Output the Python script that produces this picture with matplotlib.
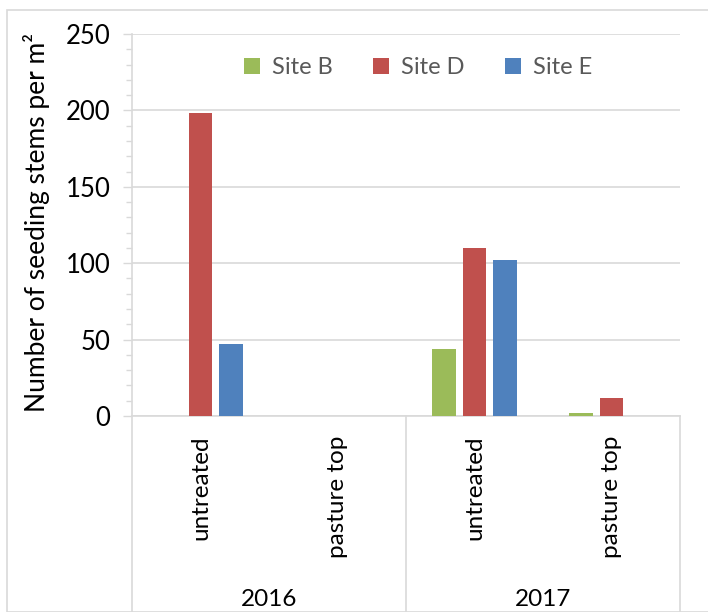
import numpy as np
import matplotlib
matplotlib.use("Agg")
import matplotlib.pyplot as plt
from matplotlib.patches import Rectangle, Patch
from matplotlib.lines import Line2D
from matplotlib.transforms import blended_transform_factory

plt.rcParams['font.family'] = ['Lato', 'DejaVu Sans']

categories = ["untreated", "pasture top", "untreated", "pasture top"]
years = ["2016", "2017"]
series_names = ["Site B", "Site D", "Site E"]
site_b = [0, 0, 44, 2]
site_d = [198, 0, 110, 12]
site_e = [47, 0, 102, 0]
colors = ["#9BBB59", "#C0504D", "#4F81BD"]

W, H = 708, 612
fig = plt.figure(figsize=(W / 100, H / 100), dpi=100)
ax = fig.add_axes([132 / W, 1 - 416 / H, (680 - 132) / W, (416 - 34) / H])

x = np.arange(len(categories))
offsets = [-0.224, 0.0, 0.224]
width = 0.175
for vals, off, c in zip([site_b, site_d, site_e], offsets, colors):
    ax.bar(x + off, vals, width, color=c, linewidth=0, zorder=3)

ax.set_xlim(-0.5, len(categories) - 0.5)
ax.set_ylim(0, 250)
ax.set_yticks(np.arange(0, 251, 50))
ax.set_yticks(np.arange(0, 251, 10), minor=True)
ax.yaxis.grid(True, which='major', color='#D9D9D9', linewidth=1.2, zorder=0)
ax.set_axisbelow(True)
ax.tick_params(axis='y', which='major', length=6.5, width=1, color='#D9D9D9',
               labelsize=18.5, pad=9, labelcolor='black')
ax.tick_params(axis='y', which='minor', length=4, width=1, color='#D9D9D9')
ax.set_xticks([])
for s in ['top', 'right']:
    ax.spines[s].set_visible(False)
for s in ['left', 'bottom']:
    ax.spines[s].set_color('#D9D9D9')
    ax.spines[s].set_linewidth(1.2)

# multi-level category axis
trans = blended_transform_factory(ax.transData, fig.transFigure)
for xi, lab in zip(x, categories):
    ax.text(xi, 1 - 436 / H, lab, rotation=90, ha='center', va='top',
            fontsize=17.5, transform=trans, color='black')
for i, yr in enumerate(years):
    ax.text(2 * i + 0.5, 1 - 600 / H, yr, ha='center', va='center',
            fontsize=17.5, transform=trans, color='black')
for xs in [-0.5, 1.5, 3.5]:
    fig.add_artist(Line2D([xs, xs], [1 - 416 / H, 0], transform=trans,
                          color='#D9D9D9', linewidth=1.2))

# y label
fig.text(37 / W, 1 - 222 / H, "Number of seeding stems per m²", rotation=90,
         ha='center', va='center', fontsize=19, color='black')

# legend
handles = [Patch(facecolor=c, edgecolor='none') for c in colors]
leg = ax.legend(handles, series_names, loc='center', bbox_to_anchor=(0.522, 0.911),
                ncol=3, frameon=False, fontsize=17, handlelength=0.7,
                handleheight=0.7, handletextpad=0.5, columnspacing=1.7)
for t in leg.get_texts():
    t.set_color('#595959')

# figure border
fig.add_artist(Rectangle((7 / W, 0), 1.0, 1 - 10 / H, transform=fig.transFigure,
                         fill=False, edgecolor='#D9D9D9', linewidth=1.2))

fig.savefig("out.png", dpi=100)
